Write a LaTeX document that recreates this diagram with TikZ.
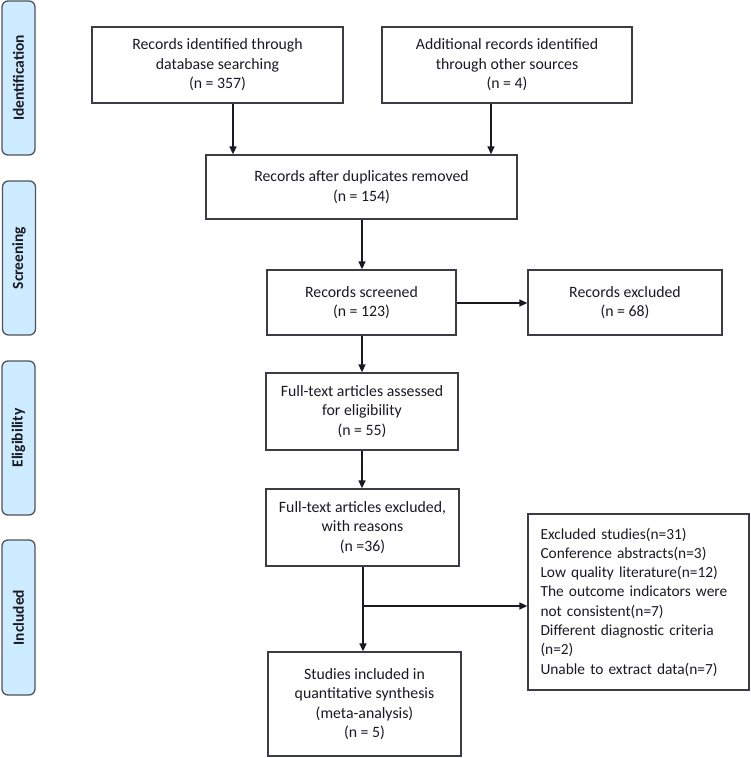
\documentclass[tikz,border=0pt]{standalone}
\usepackage{fontspec}
\setmainfont{Carlito}
\usetikzlibrary{arrows.meta,calc}
\definecolor{phase}{RGB}{206,236,255}
\definecolor{ink}{RGB}{25,25,35}
\begin{document}
\begin{tikzpicture}[x=1pt,y=-1pt,
  box/.style={draw=ink!85,line width=1.3pt,align=center,inner sep=0pt,
    font=\fontsize{15.8}{19.5}\selectfont,text=ink},
  phasebox/.style={draw=ink!75,line width=1.3pt,fill=phase,rounded corners=6pt,
    minimum width=33pt,minimum height=154pt,inner sep=0pt},
  phasetext/.style={rotate=90,font=\fontsize{15.5}{17}\selectfont\bfseries,text=ink},
  arr/.style={line width=1.5pt,draw=ink,-{Triangle[length=8pt,width=7pt]}}]
\useasboundingbox (0,0) rectangle (750,758);

% phase labels
\node[phasebox] (pI) at (18.5,78) {};
\node[phasetext] (tI) at (pI.center) {Identification};
\node[phasebox] (pS) at (19,258) {};
\node[phasetext] (tS) at (pS.center) {Screening};
\node[phasebox] (pE) at (18.5,438) {};
\node[phasetext] (tE) at (pE.center) {Eligibility};
\node[phasebox,minimum height=155pt] (pN) at (18.5,617.5) {};
\node[phasetext] (tN) at (pN.center) {Included};

% boxes
\node[box,minimum width=251pt,minimum height=76pt] (b1) at (217.5,65)
  {Records identified through\\database searching\\(n = 357)};
\node[box,minimum width=250pt,minimum height=76pt] (b2) at (507,65)
  {Additional records identified\\through other sources\\(n = 4)};
\node[box,minimum width=311pt,minimum height=64pt] (b3) at (361.5,187)
  {Records after duplicates removed\\(n = 154)};
\node[box,minimum width=189pt,minimum height=65pt] (b4) at (361.5,302.5)
  {Records screened\\(n = 123)};
\node[box,minimum width=194pt,minimum height=65pt] (b5) at (625,302.5)
  {Records excluded\\(n = 68)};
\node[box,minimum width=192pt,minimum height=77pt] (b6) at (362,411.5)
  {Full-text articles assessed\\for eligibility\\(n = 55)};
\node[box,minimum width=193pt,minimum height=77pt] (b7) at (362.5,527.5)
  {Full-text articles excluded,\\with reasons\\(n =36)};
\node[box,minimum width=193pt,minimum height=104pt] (b8) at (364.5,704)
  {Studies included in\\quantitative synthesis\\(meta-analysis)\\(n = 5)};
\node[box,minimum width=221pt,minimum height=176pt,align=left,text width=196pt,
  font=\fontsize{15.4}{19.3}\selectfont] (b9) at (638.5,602)
  {Excluded studies(n=31)\\Conference abstracts(n=3)\\Low quality literature(n=12)\\The outcome indicators were\\not consistent(n=7)\\Different diagnostic criteria\\(n=2)\\Unable to extract data(n=7)};

% connectors
\coordinate (c1) at (233,0);
\coordinate (c2) at (491,0);
\coordinate (c3) at (363,606);
\coordinate (c4) at (362,303);
\draw[arr] (b1.south -| c1) -- (b3.north -| c1);
\draw[arr] (b2.south -| c2) -- (b3.north -| c2);
\draw[arr] (b3.south -| c4) -- (b4.north -| c4);
\draw[arr] (b4.east |- c4) -- (b5.west |- c4);
\draw[arr] (b4.south -| c4) -- (b6.north -| c4);
\draw[arr] (b6.south -| c4) -- (b7.north -| c4);
\draw[arr] (b7.south -| c3) -- (b8.north -| c3);
\draw[arr] (c3) -- (b9.west |- c3);
\end{tikzpicture}
\end{document}
